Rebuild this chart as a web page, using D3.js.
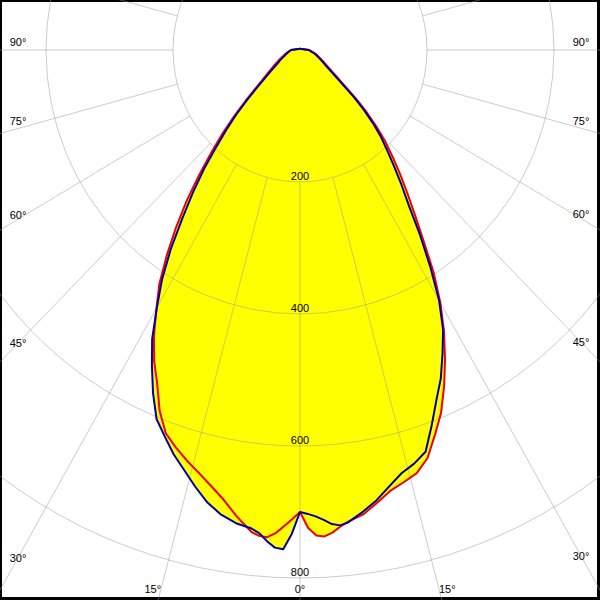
<!DOCTYPE html>
<html><head><meta charset="utf-8">
<script src="https://cdn.jsdelivr.net/npm/d3@7"></script>
<style>body{margin:0;background:#fff} svg{display:block}</style>
</head><body>
<script>
// Gamma angles (deg from nadir) and luminous intensities (cd) per half-plane
const gammaAngles = [0,1,2,3,4,5,6,8,10,12,14,16,18,20,22,24,26,28,30,32,34,36,38,40,42,44,46,48,50,55,60,65,70,75,80,90,100,120,140,160,180];
// red curve: C0 (right) / C180 (left)
const c0   = [700,724,736,738,733,725,719,711,697,683,675,667,650,621,593,558,521,483,442,397,347,307,274,245,218,194,168,142,116,70,50,40,32,27,22,14,6,3,2,2,2];
const c180 = [700,711,722,733,740,739,734,714,692,675,660,647,633,618,590,553,524,490,452,418,375,332,290,247,208,175,144,116,93,63,47,37,29,24,20,14,6,3,2,2,2];
// blue curve: C90 (right) / C270 (left)
const c90  = [700,703,707,713,720,723,720,707,693,676,661,652,640,606,573,545,512,480,438,387,338,292,260,231,206,184,160,135,110,66,47,37,30,25,20,14,6,3,2,2,2];
const c270 = [700,733,757,755,746,735,729,724,715,701,682,662,644,623,603,569,532,496,451,410,364,315,274,235,196,165,137,110,88,57,41,33,26,22,19,14,6,3,2,2,2];
const ringValues = [200,400,600,800];
const ringLabels = ["200","400","600","800"];
const angleLabels = [0,15,30,45,60,75,90];
const gridAngles = d3.range(0,360,15);

const W = 600, H = 600, cx = 300, cy = 50;
const rx = d3.scaleLinear().domain([0,200]).range([0,127]);
const ry = d3.scaleLinear().domain([0,200]).range([0,132]);
const rad = d => d*Math.PI/180;
// angle a (deg) measured from nadir, positive to the right
const pt = (a, r) => [cx + Math.sin(rad(a))*rx(r), cy + Math.cos(rad(a))*ry(r)];

const svg = d3.select("body").append("svg").attr("width",W).attr("height",H);
svg.append("rect").attr("width",W).attr("height",H).attr("fill","#000");
svg.append("rect").attr("x",2).attr("y",2).attr("width",595).attr("height",595).attr("fill","#fff");
const g = svg.append("g");

function curvePts(right, left){
  const pts = [];
  gammaAngles.forEach((a,i)=>pts.push(pt(a,right[i])));
  for(let i=gammaAngles.length-1;i>=0;i--) pts.push(pt(-gammaAngles[i],left[i]));
  return pts;
}
const redPts = curvePts(c0,c180);
const bluePts = curvePts(c90,c270);
const line = d3.line().curve(d3.curveLinearClosed);

// fill (union of both planes)
[redPts, bluePts].forEach(p=>g.append("path").attr("d",line(p)).attr("fill","#ffff00").attr("stroke","none"));

// grid
const grid = g.append("g").attr("stroke","#999").attr("stroke-opacity",0.5).attr("fill","none").attr("stroke-width",1);
ringValues.forEach(v=>grid.append("ellipse").attr("cx",cx).attr("cy",cy).attr("rx",rx(v)).attr("ry",ry(v)));
gridAngles.forEach(a=>{
  const p1 = pt(a,200), p2 = pt(a,1600);
  grid.append("line").attr("x1",p1[0]).attr("y1",p1[1]).attr("x2",p2[0]).attr("y2",p2[1]);
});

// curves
g.append("path").attr("d",line(redPts)).attr("fill","none").attr("stroke","#ee0000").attr("stroke-width",2).attr("stroke-linejoin","round");
g.append("path").attr("d",line(bluePts)).attr("fill","none").attr("stroke","#0000a8").attr("stroke-width",2).attr("stroke-linejoin","round");

// labels
const font = "'Liberation Sans', Arial, sans-serif";
ringValues.forEach((v,i)=>{
  g.append("text").attr("x",cx).attr("y",cy+ry(v)-2).attr("text-anchor","middle")
   .attr("font-family",font).attr("font-size",11).attr("fill","#000").text(ringLabels[i]);
});
const boxL = 18, boxR = 581, boxB = 589;
angleLabels.forEach(a=>{
  const sides = a===0 ? [1] : [-1,1];
  sides.forEach(s=>{
    const dx = s*Math.sin(rad(a))*rx(1), dy = Math.cos(rad(a))*ry(1);
    const tx = Math.abs(dx)>1e-9 ? (s<0 ? (cx-boxL) : (boxR-cx))/Math.abs(dx) : Infinity;
    const ty = dy>1e-9 ? (boxB-cy)/dy : Infinity;
    let px, py, anchor;
    if(ty < tx){
      px = cx + dx*ty; py = boxB;
      anchor = a===0 ? "middle" : (s<0 ? "end" : "start");
    } else {
      px = cx + dx*tx; py = cy + dy*tx;
      anchor = "middle";
      if(a>45) py -= 8*Math.sin(rad(2*(a-45)));
    }
    g.append("text").attr("x",px).attr("y",py).attr("dy","0.35em").attr("text-anchor",anchor)
     .attr("font-family",font).attr("font-size",11).attr("fill","#000").text(a+"°");
  });
});
</script>
</body></html>
